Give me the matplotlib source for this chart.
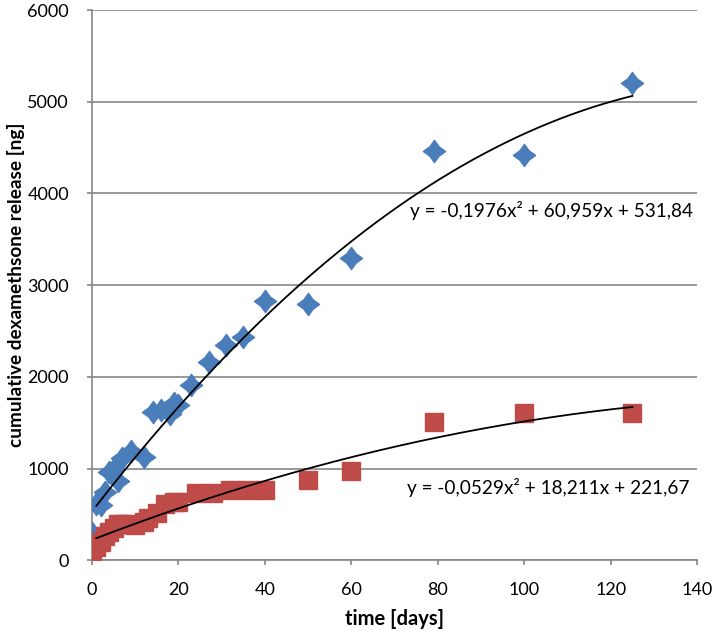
import numpy as np
import matplotlib
matplotlib.use("Agg")
import matplotlib.pyplot as plt
from matplotlib.path import Path

plt.rcParams['font.family'] = ['Lato', 'DejaVu Sans']

# blue series (diamonds)
blue_days = [0, 1, 2, 3, 4, 5, 6, 7, 9, 12, 14, 16, 18, 19, 20, 23, 27, 31, 35, 40, 50, 60, 79, 100, 125]
blue_ng = [300, 610, 600, 740, 960, 1000, 860, 1120, 1190, 1130, 1620, 1640, 1600, 1710, 1690,
           1915, 2165, 2345, 2440, 2825, 2795, 3295, 4460, 4425, 5200]

# red series (squares)
red_days = [0, 1, 2, 3, 4, 5, 6, 7, 8, 10, 12, 13, 15, 17, 19, 20, 24, 28, 32, 36, 40, 50, 60, 79, 100, 125]
red_ng = [100, 140, 200, 260, 310, 350, 390, 400, 400, 380, 420, 460, 510, 610, 640, 630,
          730, 730, 770, 770, 770, 870, 970, 1505, 1610, 1610]

# quadratic trendline coefficients (a, b, c)
blue_fit = [-0.1976, 60.959, 531.84]
red_fit = [-0.0529, 18.211, 221.67]
blue_eq = "y = -0,1976x² + 60,959x + 531,84"
red_eq = "y = -0,0529x² + 18,211x + 221,67"

star = Path([(0, 1), (0.42, 0.42), (1, 0), (0.42, -0.42), (0, -1), (-0.42, -0.42),
             (-1, 0), (-0.42, 0.42), (0, 1)], closed=True)

fig = plt.figure(figsize=(7.13, 6.33), dpi=100)
ax = fig.add_axes([0.129, 0.115, 0.849, 0.869])

ax.plot(blue_days, blue_ng, linestyle='none', marker=star, ms=16,
        color='#4A7EBB', mec='#4A7EBB', zorder=3)
ax.plot(red_days, red_ng, linestyle='none', marker='s', ms=13,
        color='#BE4B48', mec='#BE4B48', zorder=3)

xs = np.linspace(1, 125, 200)
ax.plot(xs, np.polyval(blue_fit, xs), color='black', lw=1.3, zorder=4)
ax.plot(xs, np.polyval(red_fit, xs), color='black', lw=1.3, zorder=4)

ax.text(73.6, 3818, blue_eq, fontsize=13.7, va='center', ha='left')
ax.text(72.9, 796, red_eq, fontsize=13.7, va='center', ha='left')

ax.set_xlim(0, 140)
ax.set_ylim(0, 6000)
ax.set_xticks(range(0, 141, 20))
ax.set_yticks(range(0, 6001, 1000))
ax.yaxis.grid(True, color='#868686', lw=1.2)
ax.set_axisbelow(True)
for s in ['top', 'right']:
    ax.spines[s].set_visible(False)
for s in ['left', 'bottom']:
    ax.spines[s].set_color('#868686')
    ax.spines[s].set_linewidth(1.2)
ax.tick_params(axis='both', colors='#868686', labelcolor='black', labelsize=13, length=3.6, width=1.2)
ax.tick_params(axis='x', pad=12)
ax.tick_params(axis='y', pad=13)

ax.set_xlabel('time [days]', fontsize=14.5, fontweight='bold', labelpad=8)
ax.set_ylabel('cumulative dexamethsone release [ng]', fontsize=13.7, fontweight='bold', labelpad=2)

fig.savefig('out.png', dpi=100)
